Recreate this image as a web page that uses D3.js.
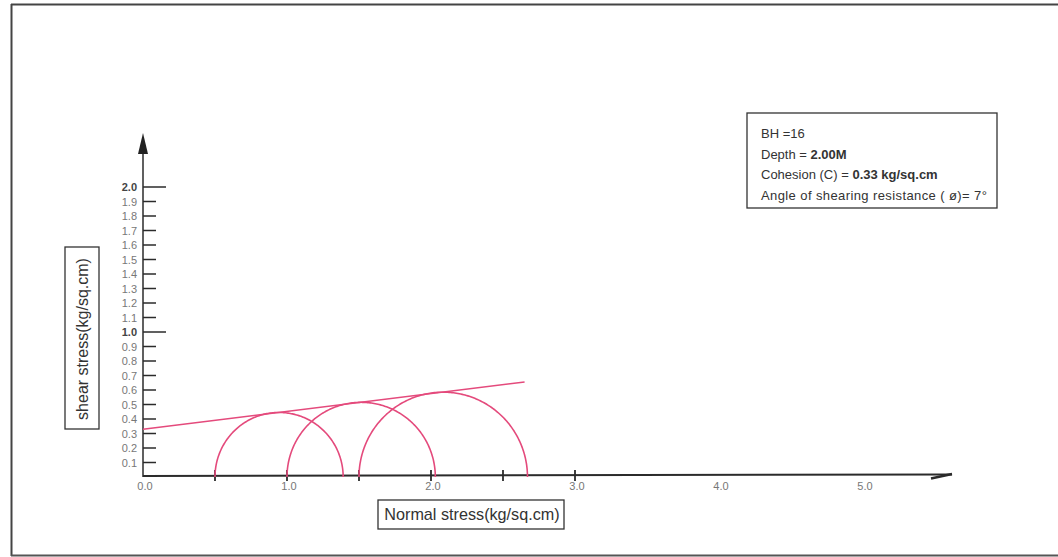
<!DOCTYPE html>
<html>
<head>
<meta charset="utf-8">
<script src="https://cdn.jsdelivr.net/npm/d3@7"></script>
<style>
  html, body { margin: 0; padding: 0; background: #fff; }
  svg { display: block; font-family: "Liberation Sans", Arial, sans-serif; }
</style>
</head>
<body>
<svg id="chart" width="1058" height="557"></svg>
<script>
// ---- data ----
const sigma3 = [0.5, 1.0, 1.5];          // minor principal stress (kg/sq.cm)
const sigma1 = [1.39, 2.03, 2.67];       // major principal stress (kg/sq.cm)
const cohesion = 0.33;                   // kg/sq.cm
const phiDeg = 7;                        // degrees
const envelopeEnd = 2.65;                // x extent of envelope line
const yTicks = [0.1,0.2,0.3,0.4,0.5,0.6,0.7,0.8,0.9,1.0,1.1,1.2,1.3,1.4,1.5,1.6,1.7,1.8,1.9,2.0];
const yMajorTicks = [1.0, 2.0];
const xLabelTicks = [0.0, 1.0, 2.0, 3.0, 4.0, 5.0];
const xMinorTicks = [0.5, 1.0, 1.5, 2.0, 2.5, 3.0];
const infoLines = [
  ["BH =16", ""],
  ["Depth = ", "2.00M"],
  ["Cohesion (C) = ", "0.33 kg/sq.cm"],
  ["Angle of shearing resistance ( ø)= 7°", ""]
];

const svg = d3.select("#chart");
const pink = "#e44a7c";
const axisCol = "#2b2b2b";
const labCol = "#777";

const x = d3.scaleLinear().domain([0, 5]).range([143, 863]);
const y = d3.scaleLinear().domain([0, 2]).range([477, 187]);

// page frame
svg.append("line").attr("x1", 11).attr("x2", 1058).attr("y1", 4.5).attr("y2", 4.5).attr("stroke", "#444").attr("stroke-width", 2);
svg.append("line").attr("x1", 11.5).attr("x2", 11.5).attr("y1", 4).attr("y2", 556).attr("stroke", "#444").attr("stroke-width", 2);
svg.append("line").attr("x1", 11).attr("x2", 1058).attr("y1", 555.5).attr("y2", 555.5).attr("stroke", "#555").attr("stroke-width", 2);

// y axis
svg.append("line").attr("x1", x(0)).attr("x2", x(0)).attr("y1", 150).attr("y2", y(0))
  .attr("stroke", axisCol).attr("stroke-width", 1.5);
svg.append("path").attr("d", `M${x(0)},133 L${x(0)-5},154 L${x(0)+5},154 Z`).attr("fill", "#222");

// y ticks
yTicks.forEach(v => {
  const major = yMajorTicks.some(m => Math.abs(m - v) < 1e-9);
  svg.append("line").attr("x1", x(0)).attr("x2", x(0) + (major ? 23 : 13))
    .attr("y1", y(v)).attr("y2", y(v)).attr("stroke", axisCol).attr("stroke-width", 1.5);
  svg.append("text").attr("x", x(0) - 6).attr("y", y(v) + 4)
    .attr("text-anchor", "end").attr("font-size", 11)
    .attr("font-weight", major ? "bold" : "normal")
    .attr("fill", major ? "#444" : labCol).text(v.toFixed(1));
});

// x axis
svg.append("line").attr("x1", x(0)).attr("x2", 952).attr("y1", y(0) - 1).attr("y2", y(0) - 2.5)
  .attr("stroke", axisCol).attr("stroke-width", 2);
svg.append("line").attr("x1", 931).attr("x2", 952).attr("y1", y(0) + 1.5).attr("y2", y(0) - 3)
  .attr("stroke", axisCol).attr("stroke-width", 2.5);
xMinorTicks.forEach(v => {
  svg.append("line").attr("x1", x(v)).attr("x2", x(v)).attr("y1", y(0) - 7).attr("y2", y(0) + 4)
    .attr("stroke", axisCol).attr("stroke-width", 1.8);
});
xLabelTicks.forEach(v => {
  svg.append("text").attr("x", x(v) + 2).attr("y", y(0) + 13)
    .attr("text-anchor", "middle").attr("font-size", 11).attr("fill", labCol).text(v.toFixed(1));
});

// Mohr circles (upper halves)
sigma3.forEach((s3, i) => {
  const s1 = sigma1[i];
  const c = (s1 + s3) / 2, r = (s1 - s3) / 2;
  const pts = d3.range(0, 181).map(a => {
    const t = Math.PI * a / 180;
    return [x(c + r * Math.cos(t)), y(r * Math.sin(t))];
  });
  svg.append("path").attr("d", d3.line()(pts)).attr("fill", "none")
    .attr("stroke", pink).attr("stroke-width", 1.6);
});

// failure envelope
const slope = Math.tan(phiDeg * Math.PI / 180);
svg.append("line").attr("x1", x(0)).attr("y1", y(cohesion))
  .attr("x2", x(envelopeEnd)).attr("y2", y(cohesion + slope * envelopeEnd))
  .attr("stroke", pink).attr("stroke-width", 1.5);

// y axis title box
svg.append("rect").attr("x", 65).attr("y", 247).attr("width", 34).attr("height", 182)
  .attr("fill", "none").attr("stroke", "#333").attr("stroke-width", 1.3);
svg.append("text").attr("transform", "translate(88,339) rotate(-90)")
  .attr("text-anchor", "middle").attr("font-size", 16).attr("fill", "#333")
  .text("shear stress(kg/sq.cm)");

// x axis title box
svg.append("rect").attr("x", 378).attr("y", 500).attr("width", 186).attr("height", 29)
  .attr("fill", "none").attr("stroke", "#333").attr("stroke-width", 1.3);
svg.append("text").attr("x", 472).attr("y", 519.5)
  .attr("text-anchor", "middle").attr("font-size", 16.2).attr("fill", "#333")
  .text("Normal stress(kg/sq.cm)");

// info box
svg.append("rect").attr("x", 747).attr("y", 113).attr("width", 250).attr("height", 95)
  .attr("fill", "none").attr("stroke", "#333").attr("stroke-width", 1.3);
infoLines.forEach((ln, i) => {
  const t = svg.append("text").attr("x", 761).attr("y", 138 + i * 20.7)
    .attr("font-size", 13).attr("fill", "#333")
    .attr("letter-spacing", i === 3 ? 0.4 : 0);
  t.append("tspan").text(ln[0]);
  if (ln[1]) t.append("tspan").attr("font-weight", "bold").text(ln[1]);
});
</script>
</body>
</html>
